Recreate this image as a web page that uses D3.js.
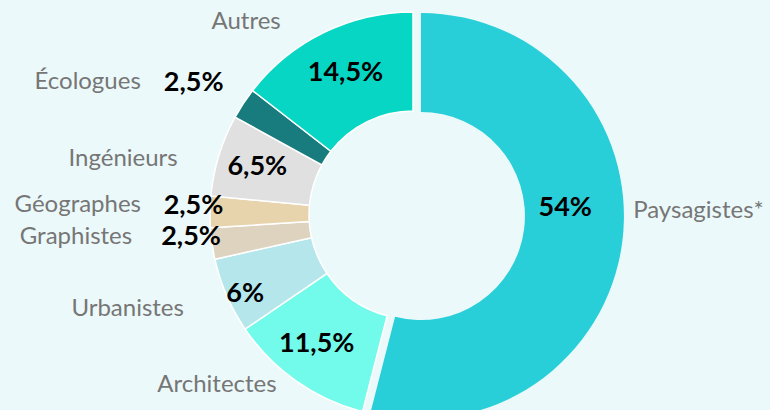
<!DOCTYPE html>
<html>
<head>
<meta charset="utf-8">
<script src="https://cdn.jsdelivr.net/npm/d3@7"></script>
<style>
  html, body { margin: 0; padding: 0; background: #ecf9fa; }
  svg { display: block; }
</style>
</head>
<body>
<div id="chart"></div>
<script>
// data (clockwise from 12 o'clock)
const categories = ["Paysagistes*", "Architectes", "Urbanistes", "Graphistes", "Géographes", "Ingénieurs", "Écologues", "Autres"];
const shares = [54, 11.5, 6, 2.5, 2.5, 6.5, 2.5, 14.5];
const pctLabels = ["54%", "11,5%", "6%", "2,5%", "2,5%", "6,5%", "2,5%", "14,5%"];

const colors = ["#29cfd8", "#72fbea", "#b4e6ec", "#ddd3bf", "#e8d4ac", "#e0e0e0", "#187b7e", "#06d6c3"];

// manual label placement (Excel-style), nudges from the computed anchor
const pctNudge = [[-8, -29], [-8, 2], [-27, 17], [-70, -1], [-66, -8], [-9, -4], [-91, -49], [0, -6]];
const nameNudge = [[-4, -34], [-11, -10], [-29, 6], [-65, -10], [-54, -8], [-27, 7], [-90, -15], [-71, 1]];
const nameAnchor = ["start", "end", "end", "end", "end", "end", "end", "middle"];

const width = 770, height = 410;
const cx = 413, cy = 215;
const outerR = 203, innerR = 104;
const explode = 8;

const svg = d3.select("#chart")
  .append("svg")
  .attr("width", width)
  .attr("height", height);

svg.append("rect")
  .attr("width", width)
  .attr("height", height)
  .attr("fill", "#ecf9fa");

const pie = d3.pie().sort(null).value((d) => d)(shares);
const arc = d3.arc().innerRadius(innerR).outerRadius(outerR);
const midArc = d3.arc().innerRadius((innerR + outerR) / 2).outerRadius((innerR + outerR) / 2);
const nameArc = d3.arc().innerRadius(outerR + 15).outerRadius(outerR + 15);

const shift = (d, i) => {
  if(i !== 0) return [0, 0];
  const a = (d.startAngle + d.endAngle) / 2;
  return [Math.sin(a) * explode, -Math.cos(a) * explode];
};

const g = svg.append("g")
  .attr("transform", "translate(" + cx + "," + cy + ")");

g.selectAll("path.slice")
  .data(pie)
  .enter()
  .append("path")
  .attr("class", "slice")
  .attr("transform", (d, i) => "translate(" + shift(d, i) + ")")
  .attr("d", arc)
  .attr("fill", (d, i) => colors[i])
  .attr("stroke", "#ffffff")
  .attr("stroke-width", (d, i) => i === 0 ? 0 : 1.5);

g.selectAll("text.pct")
  .data(pie)
  .enter()
  .append("text")
  .attr("class", "pct")
  .attr("x", (d, i) => midArc.centroid(d)[0] + shift(d, i)[0] + pctNudge[i][0])
  .attr("y", (d, i) => midArc.centroid(d)[1] + shift(d, i)[1] + pctNudge[i][1])
  .attr("dy", "0.35em")
  .attr("text-anchor", "middle")
  .attr("style", "font-family: Lato, 'Open Sans', sans-serif; font-size: 27px; font-weight: bold; fill: #000;")
  .text((d, i) => pctLabels[i]);

g.selectAll("text.name")
  .data(pie)
  .enter()
  .append("text")
  .attr("class", "name")
  .attr("x", (d, i) => nameArc.centroid(d)[0] + shift(d, i)[0] + nameNudge[i][0])
  .attr("y", (d, i) => nameArc.centroid(d)[1] + shift(d, i)[1] + nameNudge[i][1])
  .attr("dy", "0.35em")
  .attr("text-anchor", (d, i) => nameAnchor[i])
  .attr("style", "font-family: Lato, 'Open Sans', sans-serif; font-size: 24px; fill: #767676;")
  .text((d, i) => categories[i]);
</script>
</body>
</html>
